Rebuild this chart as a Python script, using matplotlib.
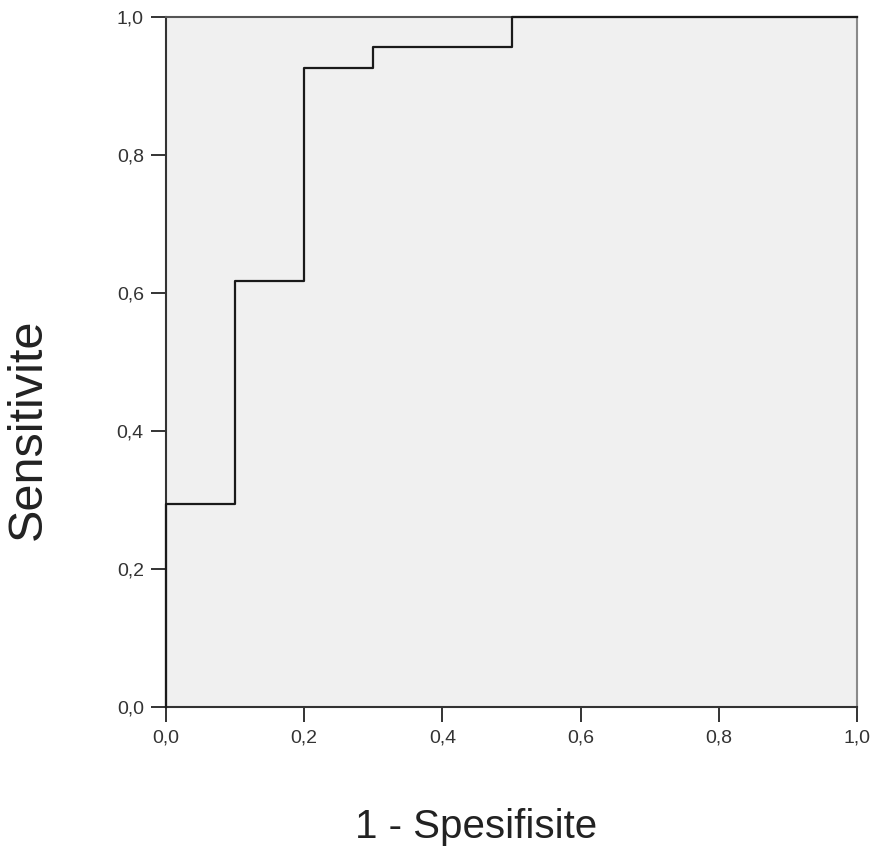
import numpy as np
import matplotlib.pyplot as plt

# ROC egrisi verileri (basamak noktalari)
fpr = [0.0, 0.0, 0.1, 0.1, 0.2, 0.2, 0.3, 0.3, 0.5, 0.5, 1.0]
tpr = [0.0, 0.294, 0.294, 0.618, 0.618, 0.926, 0.926, 0.956, 0.956, 1.0, 1.0]
ticks = [0.0, 0.2, 0.4, 0.6, 0.8, 1.0]
tick_labels = ['0,0', '0,2', '0,4', '0,6', '0,8', '1,0']

plt.rcParams['font.family'] = ['Liberation Sans', 'DejaVu Sans']

fig = plt.figure(figsize=(8.72, 8.52), dpi=100)
ax = fig.add_axes([0.1904, 0.1702, 0.7924, 0.8098])
ax.set_facecolor('#f0f0f0')

ax.plot(fpr, tpr, color='#1a1a1a', linewidth=1.6, clip_on=False, zorder=3)

ax.set_xlim(0, 1)
ax.set_ylim(0, 1)
ax.set_xticks(ticks)
ax.set_xticklabels(tick_labels)
ax.set_yticks(ticks)
ax.set_yticklabels(tick_labels)
ax.tick_params(axis='both', direction='out', length=11, width=1.4,
               color='#333333', labelsize=14, labelcolor='#333333', pad=5)

for side in ['left', 'bottom']:
    ax.spines[side].set_color('#333333')
    ax.spines[side].set_linewidth(1.5)
ax.spines['top'].set_color('#555555')
ax.spines['top'].set_linewidth(1.5)
ax.spines['right'].set_color('#8a8a8a')
ax.spines['right'].set_linewidth(1.5)

ax.set_xlabel('1 - Spesifisite', fontsize=29, color='#222222')
ax.set_ylabel('Sensitivite', fontsize=35, color='#222222')
ax.xaxis.set_label_coords(0.448, -0.174)
ax.yaxis.set_label_coords(-0.199, 0.403)
ax.xaxis.label.set_va('center')
ax.yaxis.label.set_va('center')

fig.savefig('out.png', dpi=100)
